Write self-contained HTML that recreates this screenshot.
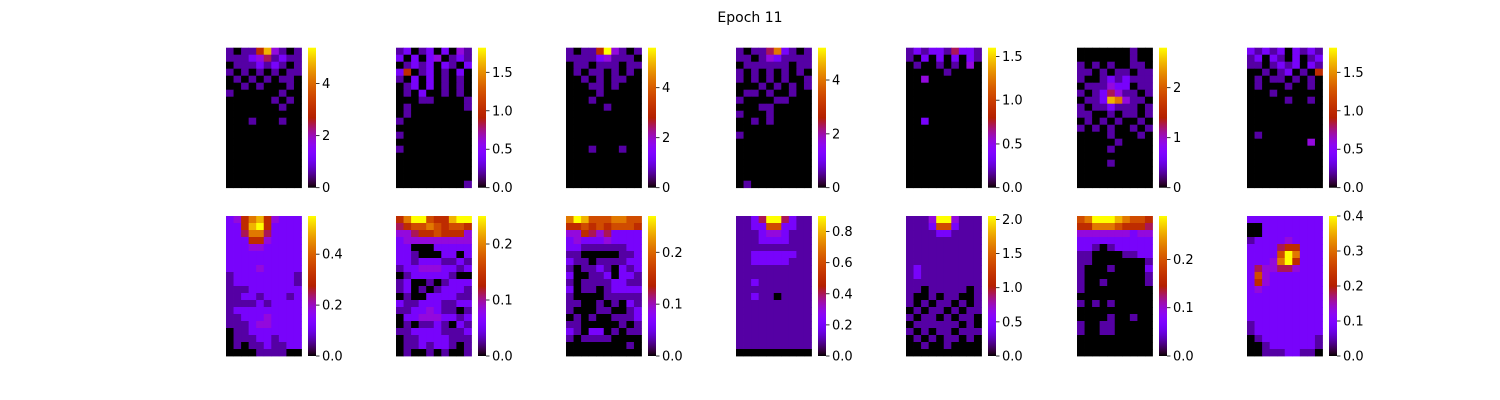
<!DOCTYPE html>
<html><head><meta charset="utf-8"><style>
html,body{margin:0;padding:0;background:#fff;}
svg{display:block;font-family:"DejaVu Sans","Liberation Sans",sans-serif;}
</style></head><body>
<svg id="fig" width="1500" height="400" viewBox="0 0 1500 400" xmlns="http://www.w3.org/2000/svg">
<rect width="1500" height="400" fill="#fff"/>
<text x="750" y="22" text-anchor="middle" font-size="14">Epoch 11</text>
<defs id="defs"></defs>
</svg>
<script>
const panelX = [226, 396, 566, 736, 906, 1077, 1247];
const rowY = [47.7, 216];
const maxValues = [[5.38,1.82,5.6,5.2,1.6,2.8,1.82],[0.55,0.25,0.27,0.9,2.05,0.29,0.40]];
const tickLabels = [
 [["0","2","4"],["0.0","0.5","1.0","1.5"],["0","2","4"],["0","2","4"],["0.0","0.5","1.0","1.5"],["0","1","2"],["0.0","0.5","1.0","1.5"]],
 [["0.0","0.2","0.4"],["0.0","0.1","0.2"],["0.0","0.1","0.2"],["0.0","0.2","0.4","0.6","0.8"],["0.0","0.5","1.0","1.5","2.0"],["0.0","0.1","0.2"],["0.0","0.1","0.2","0.3","0.4"]]
];
const grid_r0 = [
["1011583101","1112341211","0111212101","1010101011","0101010110","0010100010","1000000100","0000001010","0000000100","0000000000","0001000100","0000000000","0000000000","0000000000","0000000000","0000000000","0000000000","0000000000","0000000000","0000000000"],
["1201202031","2020230121","0121202102","2501201020","1020201010","0120201010","0102001010","0001100001","0100000001","0100000000","1000000000","0000000000","1000000000","0000000000","1000000000","0000000000","0000000000","0000000000","0000000000","0000000001"],
["1011593101","1111231110","0110111011","0101101010","0010101100","0001101000","0000100000","0001000000","0000010000","0000000000","0000000000","0000000000","0000000000","0000000000","0001000100","0000000000","0000000000","0000000000","0000000000","0000000000"],
["1011472101","1101321111","0111111011","1010101010","1010101001","0001010101","0110100100","1000011000","0001100000","1000100000","0010100000","0000000000","1000000000","0000000000","0000000000","0000000000","0000000000","0000000000","0000000000","0100000000"],
["1212214221","1020202021","0100101030","0000010000","0030000000","0000000000","0000000000","0000000000","0000000000","0000000000","0020000000","0000000000","0000000000","0000000000","0000000000","0000000000","0000000000","0000000000","0000000000","0000000000"],
["0000000100","0000000100","1010100110","1101011011","1001212111","0111322011","1012431101","0112873110","1011211101","1100101101","0101010010","1010100101","0000100010","0000010000","0000100000","0000000000","0000100000","0000000000","0000000000","0000000000"],
["2121202121","1202102012","1101212021","0010120105","0101101010","0100010010","0001000000","0000010010","0000000000","0000000000","0000000000","0000000000","0100000000","0000000030","0000000000","0000000000","0000000000","0000000000","0000000000","0000000000"]
];
const grid_r1 = [
["2357853222","2258952222","2247742222","2225532222","2223322222","2222222222","2222222222","2222322222","1222222221","1222222221","1112222222","1122122212","1111212222","1222222222","1122232222","1112332222","0112222222","0111221222","0101121122","0000111100"],
["5799655899","4566765665","3345565553","2333333333","2200022222","2210002202","2212221121","1223332212","0122222100","1200101222","1201012221","0100222211","2112221122","1122321101","0223332212","0101121021","1122221112","0112222111","0112122101","0100101001"],
["7986667766","5565656665","3354342222","2322232222","2211111122","1100000112","2110111122","1011210212","2001120221","1011112211","2011012222","1000011111","1100101021","1000110012","0101001112","1100000101","2102201011","1011110000","0000000010","0000000000"],
["1124994211","1122662211","1112332111","1112222111","1111111111","1122222211","1122222111","1111111111","1111111111","1121111111","1111111111","1121101111","1111111111","1111111111","1111111111","1111111111","1111111111","1111111111","1111111111","0000000000"],
["1113993111","1112662111","1111221111","1111111111","1111111111","1111111111","1111111111","1211111111","1211111111","1111111111","1101111101","1001011001","1010110101","0101101011","1011010110","0111111010","1010110111","0101011010","0010010000","0000000000"],
["6799987665","5577765554","3333333233","2222222222","2210122222","1100001122","1100000001","1000100002","1000000001","1001000001","1000000000","0000000000","1010100000","0000000000","0000100100","1001100000","1001100000","0000000000","0000000000","0000000000"],
["2222222222","0022222222","0022222222","1222232222","2222455222","2222697222","2223795222","2433443222","2632222222","2532222222","2322222222","2222222222","2222222222","2222222222","2222222222","1222222222","1222222222","0122222221","0012222221","0011122110"]
];
const grids = [grid_r0, grid_r1];

function cmap(x){
  x = Math.max(0, Math.min(1, x));
  const r = Math.sqrt(x), g = x*x*x, b = Math.max(0, Math.sin(2*Math.PI*x));
  return `rgb(${Math.round(r*255)},${Math.round(g*255)},${Math.round(b*255)})`;
}
const NS = "http://www.w3.org/2000/svg";
const svg = document.getElementById('fig');
const defs = document.getElementById('defs');
const W = 75.5, H = 140, CBX = 82, CBW = 8;

const grad = document.createElementNS(NS, 'linearGradient');
grad.setAttribute('id', 'gp');
grad.setAttribute('x1', '0'); grad.setAttribute('y1', '1');
grad.setAttribute('x2', '0'); grad.setAttribute('y2', '0');
for (let i = 0; i <= 40; i++) {
  const s = document.createElementNS(NS, 'stop');
  s.setAttribute('offset', (i/40).toString());
  s.setAttribute('stop-color', cmap(i/40));
  grad.appendChild(s);
}
defs.appendChild(grad);

for (let r = 0; r < 2; r++) {
  for (let p = 0; p < 7; p++) {
    const g = document.createElementNS(NS, 'g');
    
    
    svg.appendChild(g);
    const rows = grids[r][p];
    const nr = rows.length, nc = rows[0].length;
    const cw = W/nc, ch = H/nr;
    const x0 = panelX[p], y0 = rowY[r];
    for (let i = 0; i < nr; i++) {
      for (let j = 0; j < nc; j++) {
        const v = parseInt(rows[i][j]) / 9;
        const rect = document.createElementNS(NS, 'rect');
        
        
        rect.setAttribute('x', (x0 + j*cw).toFixed(2));
        rect.setAttribute('y', (y0 + i*ch).toFixed(2));
        rect.setAttribute('width', (cw+0.4).toFixed(2));
        rect.setAttribute('height', (ch+0.4).toFixed(2));
        rect.setAttribute('fill', cmap(v));
        g.appendChild(rect);
      }
    }
    const cbx = x0 + CBX;
    const cb = document.createElementNS(NS, 'rect');
    
    
    cb.setAttribute('x', cbx); cb.setAttribute('y', y0);
    cb.setAttribute('width', CBW); cb.setAttribute('height', H);
    cb.setAttribute('fill', 'url(#gp)');
    svg.appendChild(cb);
    const mx = maxValues[r][p];
    tickLabels[r][p].forEach(t => {
      const v = parseFloat(t);
      const ty = y0 + H - (v/mx)*H;
      const ln = document.createElementNS(NS, 'line');
      
      
      ln.setAttribute('x1', cbx + CBW); ln.setAttribute('x2', cbx + CBW + 3.5);
      ln.setAttribute('y1', ty); ln.setAttribute('y2', ty);
      ln.setAttribute('stroke', '#000'); ln.setAttribute('stroke-width', '0.8');
      svg.appendChild(ln);
      const tx = document.createElementNS(NS, 'text');
      
      
      tx.setAttribute('x', cbx + CBW + 6);
      tx.setAttribute('y', ty + 4.5);
      tx.setAttribute('font-size', '13');
      tx.textContent = t;
      svg.appendChild(tx);
    });
  }
}
</script>
</body></html>
